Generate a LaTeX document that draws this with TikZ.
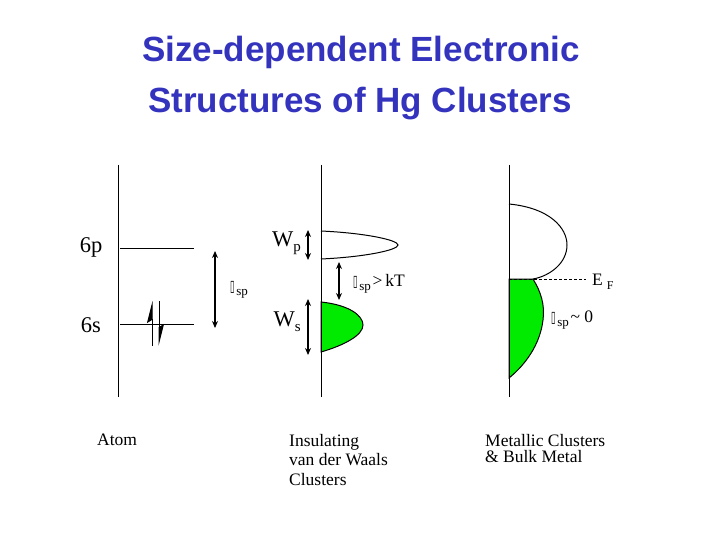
\documentclass[tikz,border=0pt]{standalone}
\usepackage{fontspec}
\setmainfont{Liberation Serif}
\newfontfamily\titlefont{Liberation Sans}
\newfontfamily\symfont{DejaVu Sans}
\usetikzlibrary{arrows.meta}
\definecolor{titleblue}{RGB}{51,51,190}
\definecolor{bandgreen}{RGB}{0,235,0}
\tikzset{
  axisline/.style={line width=1pt},
  level/.style={line width=1pt},
  dbl/.style={line width=1.1pt,{Stealth[length=7pt,width=6pt]}-{Stealth[length=7pt,width=6pt]}},
  spin/.style={line width=1pt,-{Stealth[harpoon,length=20pt,width=10pt,inset=3pt]}},
  lbl/.style={font=\fontsize{17.5}{19.5}\selectfont, anchor=north west, inner sep=0pt, align=left},
  big/.style={font=\fontsize{22.5}{24}\selectfont, inner sep=0pt},
  ttl/.style={text=titleblue, font=\titlefont\bfseries\fontsize{35}{40}\selectfont, anchor=base, inner sep=0pt},
  band/.style={line width=1pt},
}
\newcommand{\dbox}{{\symfont\fontsize{15}{16}\selectfont\scalebox{0.55}[1.05]{▯}}}
\newcommand{\spsub}{\raisebox{-4pt}{\fontsize{13}{13}\selectfont sp}}
\begin{document}
\begin{tikzpicture}[x=1pt,y=-1pt]
\useasboundingbox (0,0) rectangle (720,540);
% title
\node[ttl] (t1) at (361,62) {Size-dependent Electronic};
\node[ttl] (t2) at (360,113) {Structures of Hg Clusters};

% ---------- Atom ----------
\coordinate (a1) at (118,165); \coordinate (a2) at (118,397);
\draw[axisline] (a1) -- (a2);
\coordinate (p1) at (120,248); \coordinate (p2) at (194,248);
\coordinate (s1) at (120,324); \coordinate (s2) at (194,324);
\draw[level] (p1) -- (p2);
\draw[level] (s1) -- (s2);
\node[big] (l6p) at (91,247) {6p};
\node[big] (l6s) at (91,325) {6s};
\coordinate (u1) at (152,346); \coordinate (u2) at (152,301);
\coordinate (d1) at (159,301); \coordinate (d2) at (159,346);
\draw[spin] (u1) -- (u2);
\draw[spin] (d1) -- (d2);
\coordinate (g1) at (215,251); \coordinate (g2) at (215,328);
\draw[dbl] (g1) -- (g2);
\node[inner sep=0pt, anchor=west] (dsp1) at (230,290) {\dbox\,\spsub};
\node[lbl] (atom) at (97,434) {Atom};

% ---------- Insulating ----------
\coordinate (b1) at (321,165); \coordinate (b2) at (321,397);
\draw[band, fill=white] (321,231) .. controls (365,233) and (398,240) .. (398,245) .. controls (398,250) and (365,257) .. (321,259);
\draw[band, fill=bandgreen] (321,302) .. controls (350,305) and (363,316) .. (363,325) .. controls (363,335) and (345,345) .. (321,352) -- cycle;
\draw[axisline] (b1) -- (b2);
\coordinate (wp1) at (308,230); \coordinate (wp2) at (308,260);
\draw[dbl] (wp1) -- (wp2);
\coordinate (ws1) at (308,299); \coordinate (ws2) at (308,355);
\draw[dbl] (ws1) -- (ws2);
\coordinate (gp1) at (339,262); \coordinate (gp2) at (339,300);
\draw[dbl] (gp1) -- (gp2);
\node[inner sep=0pt, anchor=east] (wp) at (301,243) {\fontsize{22.5}{24}\selectfont W\raisebox{-5pt}{\fontsize{15}{16}\selectfont p}};
\node[inner sep=0pt, anchor=east] (ws) at (301,322) {\fontsize{22.5}{24}\selectfont W\raisebox{-5pt}{\fontsize{15}{16}\selectfont s}};
\node[inner sep=0pt, anchor=west] (dsp2) at (353,284) {\dbox\,\spsub\,{\fontsize{17.5}{18}\selectfont >\,kT}};
\node[lbl] (ins) at (289,434) {Insulating\\van der Waals\\Clusters};

% ---------- Metallic ----------
\coordinate (c1) at (509,165); \coordinate (c2) at (509,397);
\draw[band, fill=bandgreen] (509,279) -- (533,279) .. controls (541,292) and (545,305) .. (543,320) .. controls (540,345) and (525,365) .. (509,378) -- cycle;
\draw[band] (509,204) .. controls (550,208) and (567,228) .. (567,245) .. controls (567,263) and (550,276) .. (533,279);
\coordinate (ef1) at (509,279); \coordinate (ef2) at (586,279);
\draw[line width=0.8pt, dash pattern=on 3pt off 2pt] (ef1) -- (ef2);
\draw[axisline] (c1) -- (c2);
\node[inner sep=0pt, anchor=west] (ef) at (592,282) {\fontsize{17.5}{18}\selectfont E\hspace{4pt}\raisebox{-4pt}{\fontsize{12}{12}\selectfont F}};
\node[inner sep=0pt, anchor=west] (dsp3) at (551,320) {\dbox\,\spsub\,{\fontsize{17.5}{18}\selectfont \textasciitilde\ 0}};
\node[lbl, font=\fontsize{17.5}{16}\selectfont] (met) at (485,434) {Metallic Clusters\\\& Bulk Metal};
\end{tikzpicture}
\end{document}
